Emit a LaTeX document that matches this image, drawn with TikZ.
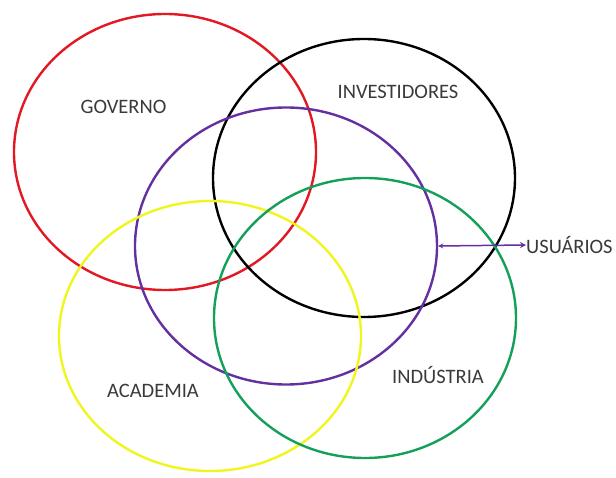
\documentclass[tikz,border=0pt]{standalone}
\usepackage{fontspec}
\setmainfont{Carlito}
\usetikzlibrary{shapes.geometric,arrows.meta}
\definecolor{cred}{RGB}{226,24,36}
\definecolor{cpurple}{RGB}{100,48,160}
\definecolor{cyellow}{RGB}{240,245,30}
\definecolor{cgreen}{RGB}{20,160,90}
\definecolor{ctext}{RGB}{58,58,58}
\begin{document}
\begin{tikzpicture}[x=1pt,y=1pt,
  ring/.style={ellipse,draw,line width=2.4pt,inner sep=0pt,minimum width=302pt,minimum height=#1},
  lbl/.style={text=ctext,font=\fontsize{20.5}{24}\selectfont,inner sep=0pt}]
\useasboundingbox (0,0) rectangle (616,-478);
\node[ring=276pt,draw=cred] (gov) at (165,-152) {};
\node[ring=278pt,draw=black] (inv) at (364,-178) {};
\node[ring=277pt,draw=cpurple] (usr) at (286,-246) {};
\node[ring=270pt,draw=cyellow] (aca) at (210,-336) {};
\node[ring=280pt,draw=cgreen] (ind) at (365,-318) {};
\node[lbl] (tgov) at (123.5,-107) {GOVERNO};
\node[lbl] (tinv) at (398,-91.5) {INVESTIDORES};
\node[lbl] (taca) at (153,-390.5) {ACADEMIA};
\node[lbl] (tind) at (438,-375.5) {INDÚSTRIA};
\node[lbl,anchor=west] (tusr) at (526,-245) {USUÁRIOS};
\draw[cpurple,line width=1.5pt,{Stealth[length=5pt,width=5pt]}-{Stealth[length=6pt,width=6pt]}] (usr.east) -- (tusr.west);
\end{tikzpicture}
\end{document}
